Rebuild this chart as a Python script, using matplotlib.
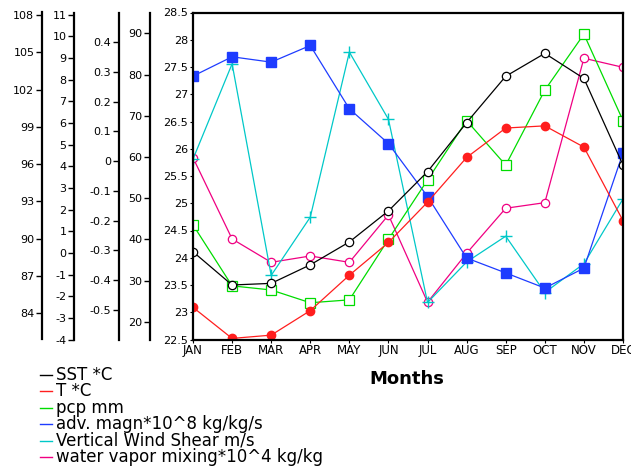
import matplotlib
matplotlib.use("Agg")
import matplotlib.pyplot as plt
from matplotlib.lines import Line2D

months = ["JAN", "FEB", "MAR", "APR", "MAY", "JUN", "JUL", "AUG", "SEP", "OCT", "NOV", "DEC"]

# main axis (deg C)
sst = [24.11, 23.50, 23.53, 23.87, 24.29, 24.86, 25.58, 26.48, 27.33, 27.75, 27.29, 25.70]
temp = [23.09, 22.52, 22.58, 23.03, 23.68, 24.28, 25.02, 25.84, 26.38, 26.42, 26.03, 24.68]
# side axes
pcp = [43.5, 28.7, 27.7, 24.6, 25.3, 40.0, 54.4, 68.8, 58.0, 76.2, 89.8, 68.8]
adv = [0.286, 0.351, 0.333, 0.389, 0.176, 0.059, -0.119, -0.326, -0.376, -0.427, -0.360, 0.028]
shear = [4.33, 8.73, -1.04, 1.65, 9.27, 6.17, -2.29, -0.42, 0.77, -1.83, -0.50, 2.49]
vapor = [96.52, 89.98, 88.10, 88.61, 88.10, 91.91, 84.89, 88.83, 92.45, 92.90, 104.52, 103.79]

labels = ["SST *C", "T *C", "pcp mm", "adv. magn*10^8 kg/kg/s",
          "Vertical Wind Shear m/s", "water vapor mixing*10^4 kg/kg"]
colors = ["#000000", "#ff1e1e", "#00dc00", "#1e3cff", "#00c8c8", "#f00082"]

x = list(range(len(months)))

fig = plt.figure(figsize=(6.31, 4.67), dpi=100)
W, H = 631, 467
x0, x1, ytop, ybot = 193, 623, 12.5, 339.5
ax = fig.add_axes([x0 / W, 1 - ybot / H, (x1 - x0) / W, (ybot - ytop) / H])

fs = 8


def side_axis(xpix, lo, hi, ticks):
    par = ax.twinx()
    par.spines["left"].set_position(("axes", (xpix - x0) / (x1 - x0)))
    par.spines["left"].set_visible(True)
    par.spines["left"].set_linewidth(1.6)
    for s in ["right", "top", "bottom"]:
        par.spines[s].set_visible(False)
    par.yaxis.set_ticks_position("left")
    par.yaxis.set_label_position("left")
    par.set_ylim(lo, hi)
    par.set_yticks(ticks)
    par.set_yticklabels(["%g" % t for t in ticks])
    par.tick_params(axis="y", direction="out", length=4, width=1, labelsize=fs, pad=1.5)
    return par


ax_vap = side_axis(42, 81.89, 108.2, [84, 87, 90, 93, 96, 99, 102, 105, 108])
ax_shear = side_axis(74, -3.95, 11.1, list(range(-4, 12)))
ax_adv = side_axis(119, -0.6, 0.5, [-0.5, -0.4, -0.3, -0.2, -0.1, 0, 0.1, 0.2, 0.3, 0.4])
ax_pcp = side_axis(150, 15.68, 95.05, [20, 30, 40, 50, 60, 70, 80, 90])

ax.set_zorder(ax_vap.get_zorder() + 10)
ax.patch.set_visible(False)

ax.set_xlim(0, 11)
ax.set_ylim(22.5, 28.5)
yt = [22.5 + 0.5 * i for i in range(13)]
ax.set_yticks(yt)
ax.set_yticklabels(["%g" % t for t in yt])
ax.set_xticks(x)
ax.set_xticklabels(months)
ax.tick_params(axis="y", direction="out", length=2, labelsize=fs, pad=1.5)
ax.tick_params(axis="x", direction="out", length=2, labelsize=8.5, pad=1.5)
for s in ax.spines.values():
    s.set_linewidth(1.6)

lw = 0.9
ax.plot(x, sst, color=colors[0], lw=lw, marker="o", ms=6, mfc="white", mec=colors[0], mew=0.9)
ax.plot(x, temp, color=colors[1], lw=lw, marker="o", ms=6, mfc=colors[1], mec=colors[1])
ax_pcp.plot(x, pcp, color=colors[2], lw=lw, marker="s", ms=7, mfc="white", mec=colors[2], mew=0.9)
ax_adv.plot(x, adv, color=colors[3], lw=lw, marker="s", ms=7, mfc=colors[3], mec=colors[3])
ax_shear.plot(x, shear, color=colors[4], lw=lw, marker="+", ms=8, mew=1)
ax_vap.plot(x, vapor, color=colors[5], lw=lw, marker="o", ms=6, mfc="white", mec=colors[5], mew=0.9)
for a in [ax_pcp, ax_adv, ax_shear, ax_vap]:
    a.set_xlim(0, 11)

fig.text(407 / W, 1 - 379 / H, "Months", fontsize=13, fontweight="bold", ha="center", va="center")

# legend
for i, (lab, c) in enumerate(zip(labels, colors)):
    yy = 1 - (375 + 16.4 * i) / H
    fig.add_artist(Line2D([40 / W, 52 / W], [yy, yy], color=c, lw=1))
    fig.text(56 / W, yy, lab, fontsize=12, ha="left", va="center")

fig.savefig("out.png", dpi=100)
